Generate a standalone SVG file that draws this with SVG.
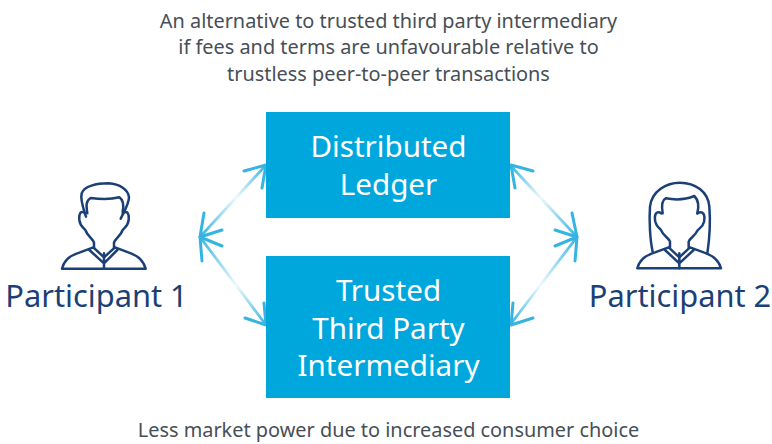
<svg xmlns="http://www.w3.org/2000/svg" width="772" height="444" viewBox="0 0 772 444">
<style>
.t{font-family:"Noto Sans","Liberation Sans",sans-serif;text-anchor:middle}
.cap{font-size:19.9px;fill:#474f56}
.box{font-size:29.6px;fill:#fff}
.who{font-size:30.8px;fill:#1b3f77}
.b{fill:#00a7dc}
.ic{fill:none;stroke:#1b3f77;stroke-width:7.5;stroke-linecap:round;stroke-linejoin:round}
.h{fill:none;stroke:#35b4e2;stroke-width:3;stroke-linecap:round;stroke-linejoin:round}
</style>
<defs>
<linearGradient id="g1" gradientUnits="userSpaceOnUse" x1="200" y1="237" x2="266" y2="165"><stop offset="0" stop-color="#35b4e2"/><stop offset=".55" stop-color="#eef9fd"/><stop offset="1" stop-color="#35b4e2"/></linearGradient>
<linearGradient id="g2" gradientUnits="userSpaceOnUse" x1="200" y1="237" x2="266" y2="325"><stop offset="0" stop-color="#35b4e2"/><stop offset=".55" stop-color="#eef9fd"/><stop offset="1" stop-color="#35b4e2"/></linearGradient>
<linearGradient id="g3" gradientUnits="userSpaceOnUse" x1="510" y1="165" x2="577" y2="237"><stop offset="0" stop-color="#35b4e2"/><stop offset=".45" stop-color="#eef9fd"/><stop offset="1" stop-color="#35b4e2"/></linearGradient>
<linearGradient id="g4" gradientUnits="userSpaceOnUse" x1="510" y1="325" x2="577" y2="237"><stop offset="0" stop-color="#35b4e2"/><stop offset=".45" stop-color="#eef9fd"/><stop offset="1" stop-color="#35b4e2"/></linearGradient>
</defs>
<g id="caption-top">
<text class="t cap" x="388.500" y="28">An alternative to trusted third party intermediary</text>
<text class="t cap" x="388.500" y="54">if fees and terms are unfavourable relative to</text>
<text class="t cap" x="388.500" y="81">trustless peer-to-peer transactions</text>
</g>
<g id="connectors">
<line x1="200" y1="237" x2="266" y2="165" stroke="url(#g1)" stroke-width="2.800"/>
<line x1="200" y1="237" x2="266" y2="325" stroke="url(#g2)" stroke-width="2.800"/>
<line x1="510" y1="165" x2="577" y2="237" stroke="url(#g3)" stroke-width="2.800"/>
<line x1="510" y1="325" x2="577" y2="237" stroke="url(#g4)" stroke-width="2.800"/>
<polyline class="h" points="204,213 200,237 222,230"/>
<polyline class="h" points="202,261 200,237 222,246"/>
<polyline class="h" points="244,171 266,165 262,188"/>
<polyline class="h" points="245,318 266,325 264,303"/>
<polyline class="h" points="533,171 511,165 515,188"/>
<polyline class="h" points="533,318 511,325 513,303"/>
<polyline class="h" points="572,213 577,237 555,230"/>
<polyline class="h" points="575,261 577,237 555,246"/>
</g>
<g id="distributed-ledger">
<rect class="b" x="266" y="112" width="244" height="106"/>
<text class="t box" x="388.500" y="157">Distributed</text>
<text class="t box" x="388.500" y="195">Ledger</text>
</g>
<g id="trusted-third-party">
<rect class="b" x="266" y="256" width="244" height="142"/>
<text class="t box" x="388.500" y="301">Trusted</text>
<text class="t box" x="388.500" y="339">Third Party</text>
<text class="t box" x="388.500" y="376">Intermediary</text>
</g>
<g id="participant-1">
<g transform="translate(0,170) scale(.33333)" class="ic">
<path d="M258,140C250,115 240,90 245,70C252,48 290,40 325,40C360,42 385,60 387,82C387,102 372,125 362,146"/>
<path d="M262,130C258,105 258,92 272,84C300,88 335,88 358,82C370,90 372,105 368,125"/>
<path d="M256,130C240,118 236,135 238,150C240,168 250,172 256,180C262,198 278,205 282,218L282,234"/>
<path d="M368,130C384,118 388,135 386,150C384,168 374,172 368,180C362,198 346,205 342,218L342,234"/>
<path d="M186,296H437C430,270 410,255 385,247L345,232L312,262L280,232L240,247C212,255 192,270 186,296Z"/>
<path d="M268,240L312,280L352,240M312,250V296"/>
</g>
<text class="t who" x="96.500" y="307">Participant 1</text>
</g>
<g id="participant-2">
<g transform="translate(500,150) scale(.33333)" class="ic">
<path d="M458,305C450,270 447,210 450,170C455,122 500,98 540,98C585,98 625,125 628,170C632,220 628,270 622,310"/>
<path d="M488,190C484,165 486,150 497,145C525,150 555,150 583,138C595,150 597,170 592,190"/>
<path d="M484,190C468,180 462,195 466,215C470,232 478,232 484,242C490,258 505,262 510,275L510,292"/>
<path d="M592,190C610,180 616,195 612,215C608,232 600,232 592,242C586,258 571,262 566,275L566,292"/>
<path d="M412,355H663C656,330 636,315 611,307L570,292L538,322L506,292L465,307C438,315 418,330 412,355Z"/>
<path d="M495,300L538,340L581,300M538,310V355"/>
</g>
<text class="t who" x="680" y="307">Participant 2</text>
</g>
<g id="caption-bottom">
<text class="t cap" x="388.500" y="437">Less market power due to increased consumer choice</text>
</g>
</svg>
